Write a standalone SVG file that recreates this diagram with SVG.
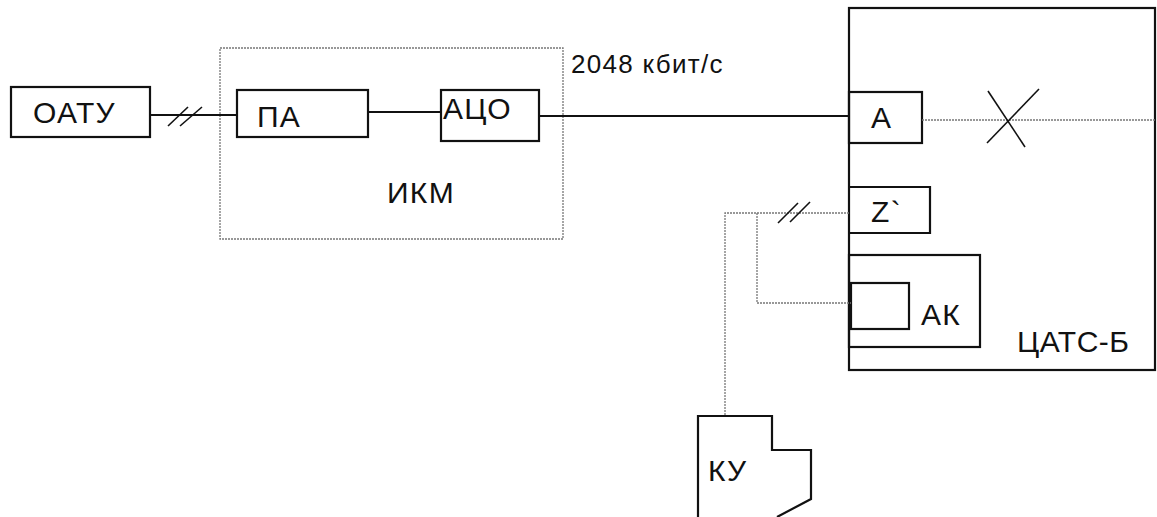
<svg xmlns="http://www.w3.org/2000/svg" width="1157" height="517" viewBox="0 0 1157 517">
<style>
.box{fill:none;stroke:#111;stroke-width:2.2}
.dot{fill:none;stroke:#777;stroke-width:1.3;stroke-dasharray:2 1}
.ln{fill:none;stroke:#111;stroke-width:2.2}
.thin{fill:none;stroke:#111;stroke-width:1.6}
text{font-family:"Liberation Sans",Arial,sans-serif;font-size:30px;letter-spacing:1.3px;fill:#111}
</style>
<rect width="1157" height="517" fill="#fff"/>
<g id="ikm">
<rect class="dot" x="220" y="48" width="343" height="191"/>
<text x="387" y="203">ИКМ</text>
</g>
<g id="oatu"><rect class="box" x="11" y="87" width="139" height="50"/><text x="33" y="123">ОАТУ</text></g>
<g id="pa"><rect class="box" x="237" y="90" width="131" height="47"/><text x="257" y="127">ПА</text></g>
<g id="aco"><rect class="box" x="441" y="90" width="98" height="51"/><text x="443" y="119">АЦО</text></g>
<g id="label-rate"><text x="571" y="73" style="font-size:26px">2048 кбит/с</text></g>
<g id="tsats">
<rect class="box" x="849" y="8" width="306" height="362"/>
<text x="1017" y="352" style="letter-spacing:0.5px">ЦАТС-Б</text>
</g>
<g id="a"><rect class="box" x="849" y="92" width="73" height="51"/><text x="871" y="128">А</text></g>
<g id="z"><path class="box" d="M849,187 H930 V233 H849"/><text x="871" y="222">Z`</text></g>
<g id="ak"><rect class="box" x="849" y="255" width="131" height="92"/><rect class="box" x="851" y="283" width="58" height="46"/><text x="921" y="325">АК</text></g>
<g id="ku"><path class="box" d="M698,517 V416 H772 V450 H811 V499 L777,517"/><text x="708" y="481">КУ</text></g>
<g id="connectors">
<line class="ln" x1="150" y1="115" x2="237" y2="115"/>
<line class="thin" x1="168" y1="126" x2="188" y2="107"/>
<line class="thin" x1="180" y1="126" x2="202" y2="107"/>
<line class="ln" x1="368" y1="112" x2="441" y2="112"/>
<line class="ln" x1="539" y1="116" x2="849" y2="116"/>
<line class="dot" x1="922" y1="120" x2="1155" y2="120"/>
<line class="thin" x1="988" y1="91" x2="1025" y2="147"/>
<line class="thin" x1="1039" y1="89" x2="987" y2="143"/>
<path class="dot" d="M849,213 H725 V416"/>
<path class="dot" d="M757,213 V303 H851"/>
<line class="thin" x1="778" y1="223" x2="798" y2="203"/>
<line class="thin" x1="790" y1="222" x2="810" y2="202"/>
</g>
</svg>
